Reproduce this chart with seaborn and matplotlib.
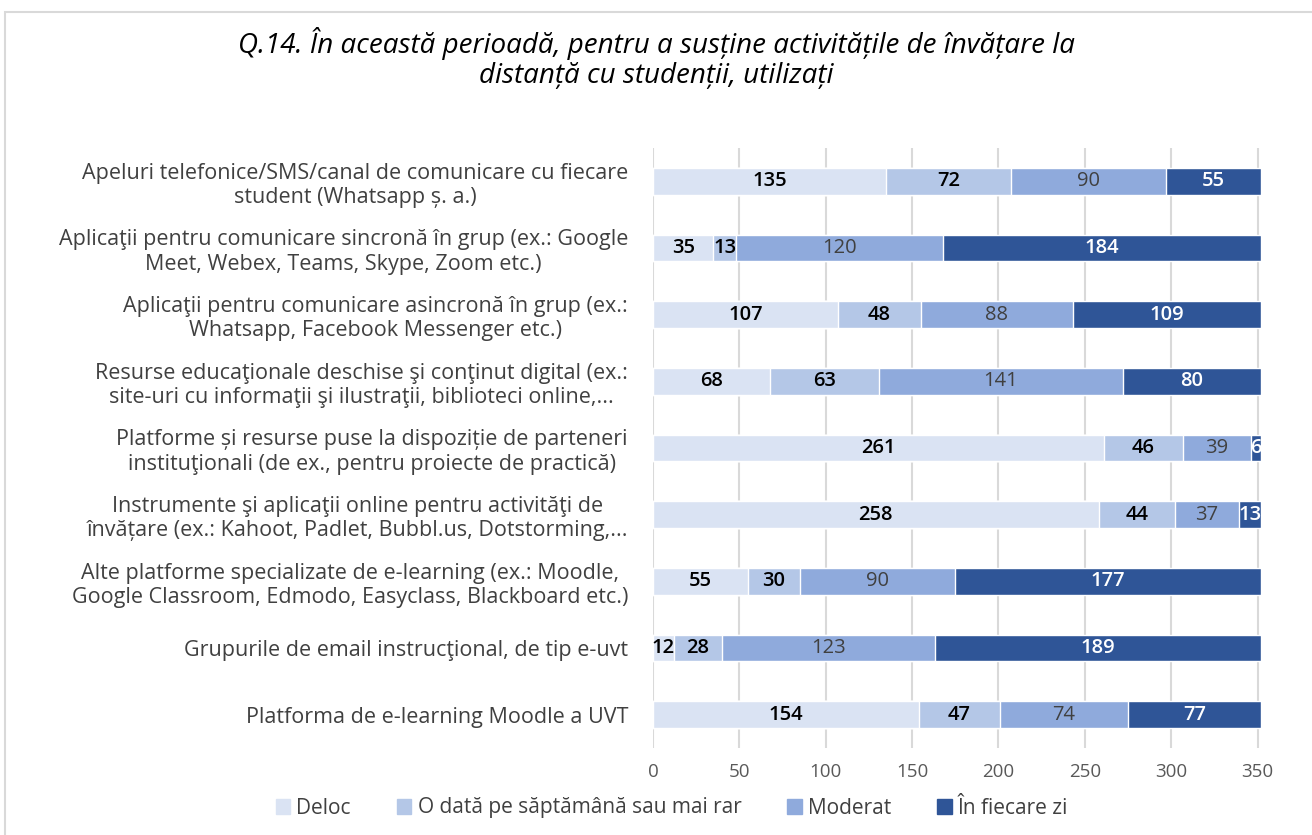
import numpy as np
import pandas as pd
import matplotlib
matplotlib.use("Agg")
import matplotlib.pyplot as plt
import seaborn as sns
from matplotlib.patches import Rectangle

categories = [
    "Apeluri telefonice/SMS/canal de comunicare cu fiecare\nstudent (Whatsapp ș. a.)",
    "Aplicaţii pentru comunicare sincronă în grup (ex.: Google\nMeet, Webex, Teams, Skype, Zoom etc.)",
    "Aplicaţii pentru comunicare asincronă în grup (ex.:\nWhatsapp, Facebook Messenger etc.)",
    "Resurse educaţionale deschise şi conţinut digital (ex.:\nsite-uri cu informaţii şi ilustraţii, biblioteci online,...",
    "Platforme și resurse puse la dispoziție de parteneri\ninstituţionali (de ex., pentru proiecte de practică)",
    "Instrumente şi aplicaţii online pentru activităţi de\nînvățare (ex.: Kahoot, Padlet, Bubbl.us, Dotstorming,...",
    "Alte platforme specializate de e-learning (ex.: Moodle,\nGoogle Classroom, Edmodo, Easyclass, Blackboard etc.)",
    "Grupurile de email instrucţional, de tip e-uvt",
    "Platforma de e-learning Moodle a UVT",
]
series = ["Deloc", "O dată pe săptămână sau mai rar", "Moderat", "În fiecare zi"]
deloc = [135, 35, 107, 68, 261, 258, 55, 12, 154]
o_data = [72, 13, 48, 63, 46, 44, 30, 28, 47]
moderat = [90, 120, 88, 141, 39, 37, 90, 123, 74]
zilnic = [55, 184, 109, 80, 6, 13, 177, 189, 77]

colors = ["#dae3f3", "#b4c7e7", "#8faadc", "#2f5597"]
text_colors = ["#000000", "#000000", "#404040", "#ffffff"]
text_weights = ["semibold", "semibold", "normal", "semibold"]

values = np.array([deloc, o_data, moderat, zilnic])
cum = values.cumsum(axis=0)

sns.set_theme(style="white")
plt.rcParams["font.family"] = ["Open Sans", "DejaVu Sans"]

fig = plt.figure(figsize=(13.12, 8.35), dpi=100)
ax = fig.add_axes([653 / 1312, 1 - 748 / 835, 608 / 1312, 600 / 835])

# stacked bars: draw cumulative totals from the largest down
for i in range(3, -1, -1):
    df = pd.DataFrame({"cat": categories, "val": cum[i]})
    sns.barplot(data=df, x="val", y="cat", orient="y", color=colors[i],
                width=0.4, saturation=1, ax=ax, zorder=2, label=series[i])

for i in range(4):
    for j in range(len(categories)):
        ax.text(cum[i][j] - values[i][j] / 2, j, str(values[i][j]),
                ha="center", va="center", fontsize=14.5, color=text_colors[i],
                fontweight=text_weights[i], clip_on=True, zorder=3)

ax.set_xlim(0, 352)
ax.set_ylim(8.5, -0.5)
ax.set_xticks(range(0, 351, 50))
ax.set_xlabel("")
ax.set_ylabel("")
ax.xaxis.grid(True, color="#d9d9d9", linewidth=1.5, zorder=0)
ax.set_axisbelow(True)
for s in ax.spines.values():
    s.set_visible(False)
ax.tick_params(axis="x", length=0, labelsize=13.5, pad=11, colors="#595959")
ax.tick_params(axis="y", length=0, labelsize=15.5, pad=18, colors="#404040")
for lbl in ax.get_yticklabels():
    lbl.set_multialignment("center")
if ax.get_legend() is not None:
    ax.get_legend().remove()

fig.text(0.5, 1 - 53 / 835, "Q.14. În această perioadă, pentru a susține activitățile de învățare la",
         ha="center", va="baseline", fontsize=20, style="italic", color="#000000")
fig.text(0.5, 1 - 83 / 835, "distanță cu studenții, utilizați",
         ha="center", va="baseline", fontsize=20, style="italic", color="#000000")

handles = [Rectangle((0, 0), 1, 1, color=c) for c in colors]
fig.legend(handles, series, loc="center", bbox_to_anchor=(672 / 1312, 1 - 808 / 835),
           ncol=4, frameon=False, fontsize=15, handlelength=0.7, handleheight=0.7,
           handletextpad=0.3, columnspacing=2.2, labelcolor="#404040")

fig.patches.append(Rectangle((5 / 1312, -0.1), 1.2, 1.1 - 12 / 835, transform=fig.transFigure,
                             fill=False, edgecolor="#d9d9d9", linewidth=1.5))

fig.savefig("out.png", dpi=100)
